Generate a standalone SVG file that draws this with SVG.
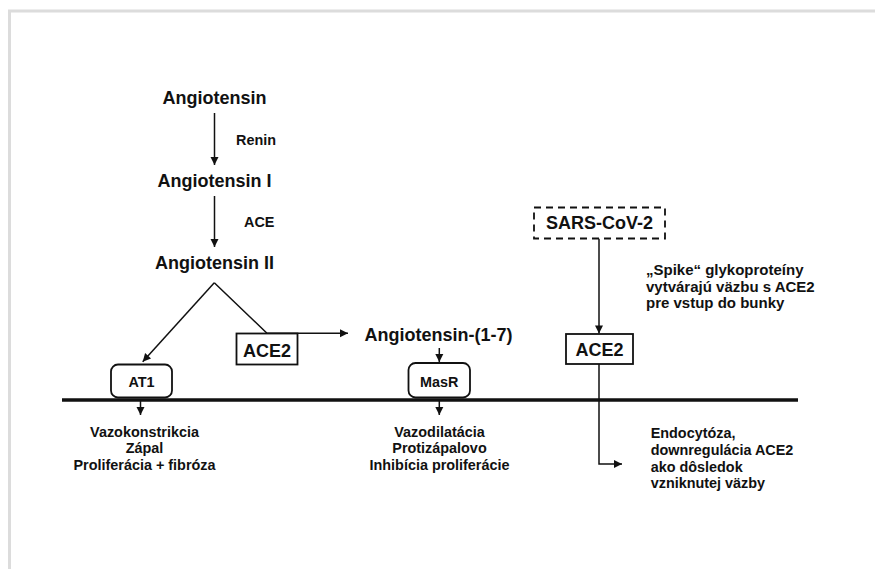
<svg xmlns="http://www.w3.org/2000/svg" width="875" height="569" viewBox="0 0 875 569">
<style>
text{font-family:"Liberation Sans",Arial,sans-serif;font-weight:bold;fill:#111}
.big{font-size:18px}
.sm{font-size:14.4px}
.note{font-size:15px}
.c{text-anchor:middle}
.ln{stroke:#111;stroke-width:1.5;fill:none}
.box{fill:#fff;stroke:#111;stroke-width:1.8}
</style>
<defs>
<marker id="ah" markerUnits="userSpaceOnUse" markerWidth="10" markerHeight="10" viewBox="0 0 10 10" refX="9" refY="5" orient="auto">
<path d="M1,1 L9,5 L1,9 z" fill="#111"/>
</marker>
</defs>
<rect width="875" height="569" fill="#fff"/>
<path d="M9.5,569 V11 H875" fill="none" stroke="#dcdcdc" stroke-width="3"/>

<g id="membrane"><line x1="62" y1="400" x2="798" y2="400" stroke="#111" stroke-width="3.5"/></g>

<g id="connectors">
<line class="ln" x1="214.5" y1="113" x2="214.5" y2="165" marker-end="url(#ah)"/>
<line class="ln" x1="214.5" y1="196" x2="214.5" y2="247" marker-end="url(#ah)"/>
<line class="ln" x1="214.3" y1="282.7" x2="142.7" y2="361.7" marker-end="url(#ah)"/>
<polyline class="ln" points="214.3,282.7 267,333.3 348,333.3" marker-end="url(#ah)"/>
<line class="ln" x1="439.3" y1="348" x2="439.3" y2="362" marker-end="url(#ah)"/>
<line class="ln" x1="140.5" y1="401" x2="140.5" y2="415" marker-end="url(#ah)"/>
<line class="ln" x1="439.3" y1="401" x2="439.3" y2="415" marker-end="url(#ah)"/>
<line class="ln" x1="599" y1="238.5" x2="599" y2="333.5" marker-end="url(#ah)"/>
<polyline class="ln" points="599,364 599,464 622,464" marker-end="url(#ah)"/>
</g>

<g id="angiotensin"><text class="big c" x="214.5" y="104">Angiotensin</text></g>
<g id="renin"><text class="sm" x="236" y="145">Renin</text></g>
<g id="angiotensin-i"><text class="big c" x="214.5" y="186.7">Angiotensin I</text></g>
<g id="ace"><text class="sm" x="244" y="226.7">ACE</text></g>
<g id="angiotensin-ii"><text class="big c" x="214.5" y="269">Angiotensin II</text></g>

<g id="ace2-left">
<rect class="box" x="236.5" y="333.5" width="61" height="31"/>
<text class="big c" x="267" y="356.7">ACE2</text>
</g>
<g id="angiotensin-1-7"><text class="big c" x="438.5" y="340.7">Angiotensin-(1-7)</text></g>

<g id="at1">
<rect class="box" x="111" y="364.5" width="61" height="33" rx="7"/>
<text class="sm c" x="141.5" y="387">AT1</text>
</g>
<g id="masr">
<rect class="box" x="408.5" y="363" width="61.5" height="34.5" rx="7"/>
<text class="sm c" x="439.3" y="386.7">MasR</text>
</g>

<g id="sars-cov-2">
<rect x="534" y="207.5" width="131" height="31" fill="#fff" stroke="#111" stroke-width="1.8" stroke-dasharray="7,5"/>
<text class="big c" x="599.5" y="229.3">SARS-CoV-2</text>
</g>
<g id="spike-note">
<text class="note" x="646" y="275">„Spike“ glykoproteíny</text>
<text class="note" x="646" y="291.5">vytvárajú väzbu s ACE2</text>
<text class="note" x="646" y="308">pre vstup do bunky</text>
</g>
<g id="ace2-right">
<rect class="box" x="566" y="334" width="67" height="30"/>
<text class="big c" x="599.5" y="356">ACE2</text>
</g>

<g id="at1-effects">
<text class="sm c" x="144.5" y="436.7">Vazokonstrikcia</text>
<text class="sm c" x="144.5" y="453.3">Zápal</text>
<text class="sm c" x="144.5" y="470">Proliferácia + fibróza</text>
</g>
<g id="masr-effects">
<text class="sm c" x="439.5" y="436.7">Vazodilatácia</text>
<text class="sm c" x="439.5" y="453.3">Protizápalovo</text>
<text class="sm c" x="439.5" y="470">Inhibícia proliferácie</text>
</g>
<g id="endocytosis-note">
<text class="sm" x="650.7" y="437.7">Endocytóza,</text>
<text class="sm" x="650.7" y="454.7">downregulácia ACE2</text>
<text class="sm" x="650.7" y="471.5">ako dôsledok</text>
<text class="sm" x="650.7" y="488.3">vzniknutej väzby</text>
</g>
</svg>
